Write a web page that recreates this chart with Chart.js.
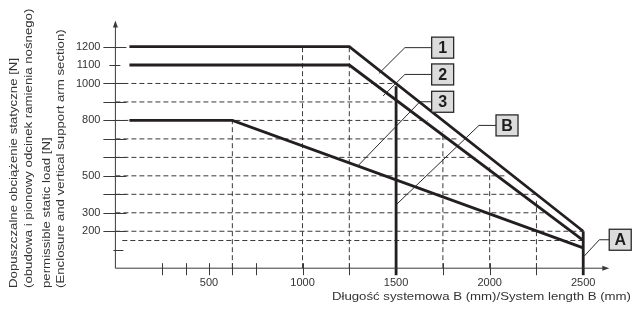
<!DOCTYPE html>
<html><head><meta charset="utf-8">
<script src="https://cdn.jsdelivr.net/npm/chart.js@4/dist/chart.umd.min.js"></script>
<style>html,body{margin:0;padding:0;background:#fff}#wrap{width:632px;height:312px}</style>
</head><body><div id="wrap"><canvas id="c" width="632" height="312"></canvas></div>
<script>
// ---- data (mm / N) ----
const lengthTicksLabeled = [500, 1000, 1500, 2000, 2500];
const lengthTickMarks = [250, 375, 500, 750];
const loadTicksLabeled = [1200, 1100, 1000, 800, 500, 300, 200];
const loadTickMarks = [1200, 1100, 1000, 900, 800, 700, 600, 500, 400, 300, 200, 100];

const curve1X = [75, 1250, 2500];  const curve1Y = [1200, 1200, 200];
const curve2X = [75, 1250, 2500];  const curve2Y = [1100, 1100, 150];
const curve3X = [75, 625, 2500];   const curve3Y = [800, 800, 110];
const limitBX = [1500, 1500];      const limitBY = [0, 985];
const limitAX = [2500, 2500];      const limitAY = [0, 200];

const gridLoadValues = [1000, 900, 800, 700, 600, 500, 400, 300, 200, 150];
const gridLoadFrom   = [0, 0, 0, 0, 0, 0, 0, 0, 0, 37];
const gridLoadTo     = [1500, 1520, 1670, 1835, 1925, 2094, 2250, 2290, 2500, 2500];
const gridLengthValues = [625, 1000, 1250, 1750, 2000, 2250];
const gridLengthTo     = [800, 1200, 1200, 740, 550, 365];

const calloutLabels  = ['1', '2', '3', 'B', 'A'];
const calloutTargetX = [1408, 1431, 1293, 1500, 2505];
const calloutTargetY = [1054, 933, 551, 343, 65];
const calloutElbowX  = [1547, 1547, 1627, 1943, 2586];
const calloutBoxX    = [1690, 1690, 1690, 2034, 2639];
const calloutBoxY    = [1194, 1049, 901, 773, 154];

const yTitleLines = ['Dopuszczalne obciążenie statyczne [N]', '(obudowa i pionowy odcinek ramienia nośnego)',
                     'permissible static load [N]', '(Enclosure and vertical support arm section)'];
const xTitle = 'Długość systemowa B (mm)/System length B (mm)';

// ---- build ----
const FONT = '"Liberation Sans", Arial, Helvetica, sans-serif';
const INK = '#231f20';
const pts = (xs, ys) => xs.map((x, i) => ({x, y: ys[i]}));
const thick = (xs, ys) => ({data: pts(xs, ys), showLine: true, borderColor: INK, borderWidth: 2.8,
  pointRadius: 0, fill: false, clip: false, borderCapStyle: 'butt', borderJoinStyle: 'miter'});
const dashed = (data) => ({data, showLine: true, borderColor: '#3a3a3a', borderWidth: 1, borderDash: [5, 3],
  pointRadius: 0, fill: false, clip: false});

const datasets = [thick(curve1X, curve1Y), thick(curve2X, curve2Y), thick(curve3X, curve3Y),
                  thick(limitBX, limitBY), thick(limitAX, limitAY)];
gridLoadValues.forEach((v, i) => datasets.push(dashed([{x: gridLoadFrom[i], y: v}, {x: gridLoadTo[i], y: v}])));
gridLengthValues.forEach((v, i) => datasets.push(dashed([{x: v, y: 0}, {x: v, y: gridLengthTo[i]}])));

const decor = {
  id: 'decor',
  afterDraw(chart) {
    const ctx = chart.ctx, xs = chart.scales.x, ys = chart.scales.y, a = chart.chartArea;
    ctx.save();
    // axes
    ctx.strokeStyle = '#3a3a3a'; ctx.fillStyle = '#3a3a3a'; ctx.lineWidth = 1;
    ctx.beginPath(); ctx.moveTo(a.left, a.bottom); ctx.lineTo(a.right - 4, a.bottom);
    ctx.moveTo(a.left, a.bottom); ctx.lineTo(a.left, a.top + 4); ctx.stroke();
    ctx.beginPath(); ctx.moveTo(a.right + 1, a.bottom); ctx.lineTo(a.right - 6, a.bottom - 2.5); ctx.lineTo(a.right - 6, a.bottom + 2.5); ctx.closePath(); ctx.fill();
    ctx.beginPath(); ctx.moveTo(a.left, a.top - 1); ctx.lineTo(a.left - 2.5, a.top + 6); ctx.lineTo(a.left + 2.5, a.top + 6); ctx.closePath(); ctx.fill();
    // y tick marks
    loadTickMarks.forEach(v => {
      const y = Math.round(ys.getPixelForValue(v)) + 0.5;
      let l = 12, r = 11;
      if (v === 1100) { l = 6; r = 5; }
      if (v === 100) { l = 2; r = 8; }
      ctx.beginPath(); ctx.moveTo(a.left - l, y); ctx.lineTo(a.left + r, y); ctx.stroke();
    });
    // x tick marks / stubs
    lengthTickMarks.concat(gridLengthValues).forEach(v => {
      const x = Math.round(xs.getPixelForValue(v)) + 0.5;
      ctx.beginPath(); ctx.moveTo(x, a.bottom - 5); ctx.lineTo(x, a.bottom + 7); ctx.stroke();
    });
    ctx.strokeStyle = INK; ctx.lineWidth = 2.8;
    [limitBX[0], limitAX[0]].forEach(v => {
      const x = xs.getPixelForValue(v);
      ctx.beginPath(); ctx.moveTo(x, a.bottom); ctx.lineTo(x, a.bottom + 7); ctx.stroke();
    });
    // callouts
    calloutLabels.forEach((lab, i) => {
      const bx = xs.getPixelForValue(calloutBoxX[i]), cy = ys.getPixelForValue(calloutBoxY[i]);
      const ex = xs.getPixelForValue(calloutElbowX[i]);
      const tx = xs.getPixelForValue(calloutTargetX[i]), ty = ys.getPixelForValue(calloutTargetY[i]);
      ctx.strokeStyle = '#2a2a2a'; ctx.lineWidth = 1;
      ctx.beginPath(); ctx.moveTo(bx, cy); ctx.lineTo(ex, cy); ctx.lineTo(tx, ty); ctx.stroke();
      const w = 22, h = 21;
      ctx.fillStyle = '#dcdcdc'; ctx.fillRect(bx, cy - h / 2, w, h);
      ctx.lineWidth = 1.3; ctx.strokeStyle = '#2a2a2a'; ctx.strokeRect(bx, cy - h / 2, w, h);
      ctx.fillStyle = '#1e1e1e'; ctx.font = 'bold 16px ' + FONT;
      ctx.textAlign = 'center'; ctx.textBaseline = 'middle';
      ctx.fillText(lab, bx + w / 2, cy + 1);
    });
    // titles
    ctx.fillStyle = '#333'; ctx.font = '11.5px ' + FONT; ctx.textBaseline = 'alphabetic'; ctx.textAlign = 'left';
    const yBase = [17, 31.5, 50, 63.5];
    yTitleLines.forEach((t, i) => {
      ctx.save(); ctx.translate(yBase[i], 288); ctx.rotate(-Math.PI / 2); ctx.scale(1.15, 1);
      ctx.fillText(t, 0, 0); ctx.restore();
    });
    ctx.save(); ctx.translate(631, 297); ctx.scale(1.15, 1);
    ctx.textAlign = 'right'; ctx.textBaseline = 'middle'; ctx.fillText(xTitle, 0, 0); ctx.restore();
    ctx.restore();
  }
};

new Chart(document.getElementById('c'), {
  type: 'scatter',
  data: {datasets},
  options: {
    responsive: false, animation: false, devicePixelRatio: 1,
    layout: {padding: {left: 0, top: 18, right: 632 - 608.3, bottom: 0}},
    plugins: {legend: {display: false}, tooltip: {enabled: false}, title: {display: false}},
    scales: {
      x: {type: 'linear', min: 0, max: 2634,
        grid: {display: false, drawTicks: false}, border: {display: false},
        afterBuildTicks: s => { s.ticks = lengthTicksLabeled.map(v => ({value: v})); },
        afterFit: s => { s.height = 312 - 268.2; },
        ticks: {padding: 8, color: '#333', font: {family: FONT, size: 11}, maxRotation: 0, autoSkip: false,
          callback: v => String(v)}},
      y: {type: 'linear', min: 0, max: 1335,
        grid: {display: false, drawTicks: false}, border: {display: false},
        afterBuildTicks: s => { s.ticks = loadTicksLabeled.map(v => ({value: v})); },
        afterFit: s => { s.width = 115.4; },
        ticks: {padding: 15, color: '#333', font: {family: FONT, size: 11}, autoSkip: false,
          callback: v => String(v)}}
    }
  },
  plugins: [decor]
});
</script></body></html>
